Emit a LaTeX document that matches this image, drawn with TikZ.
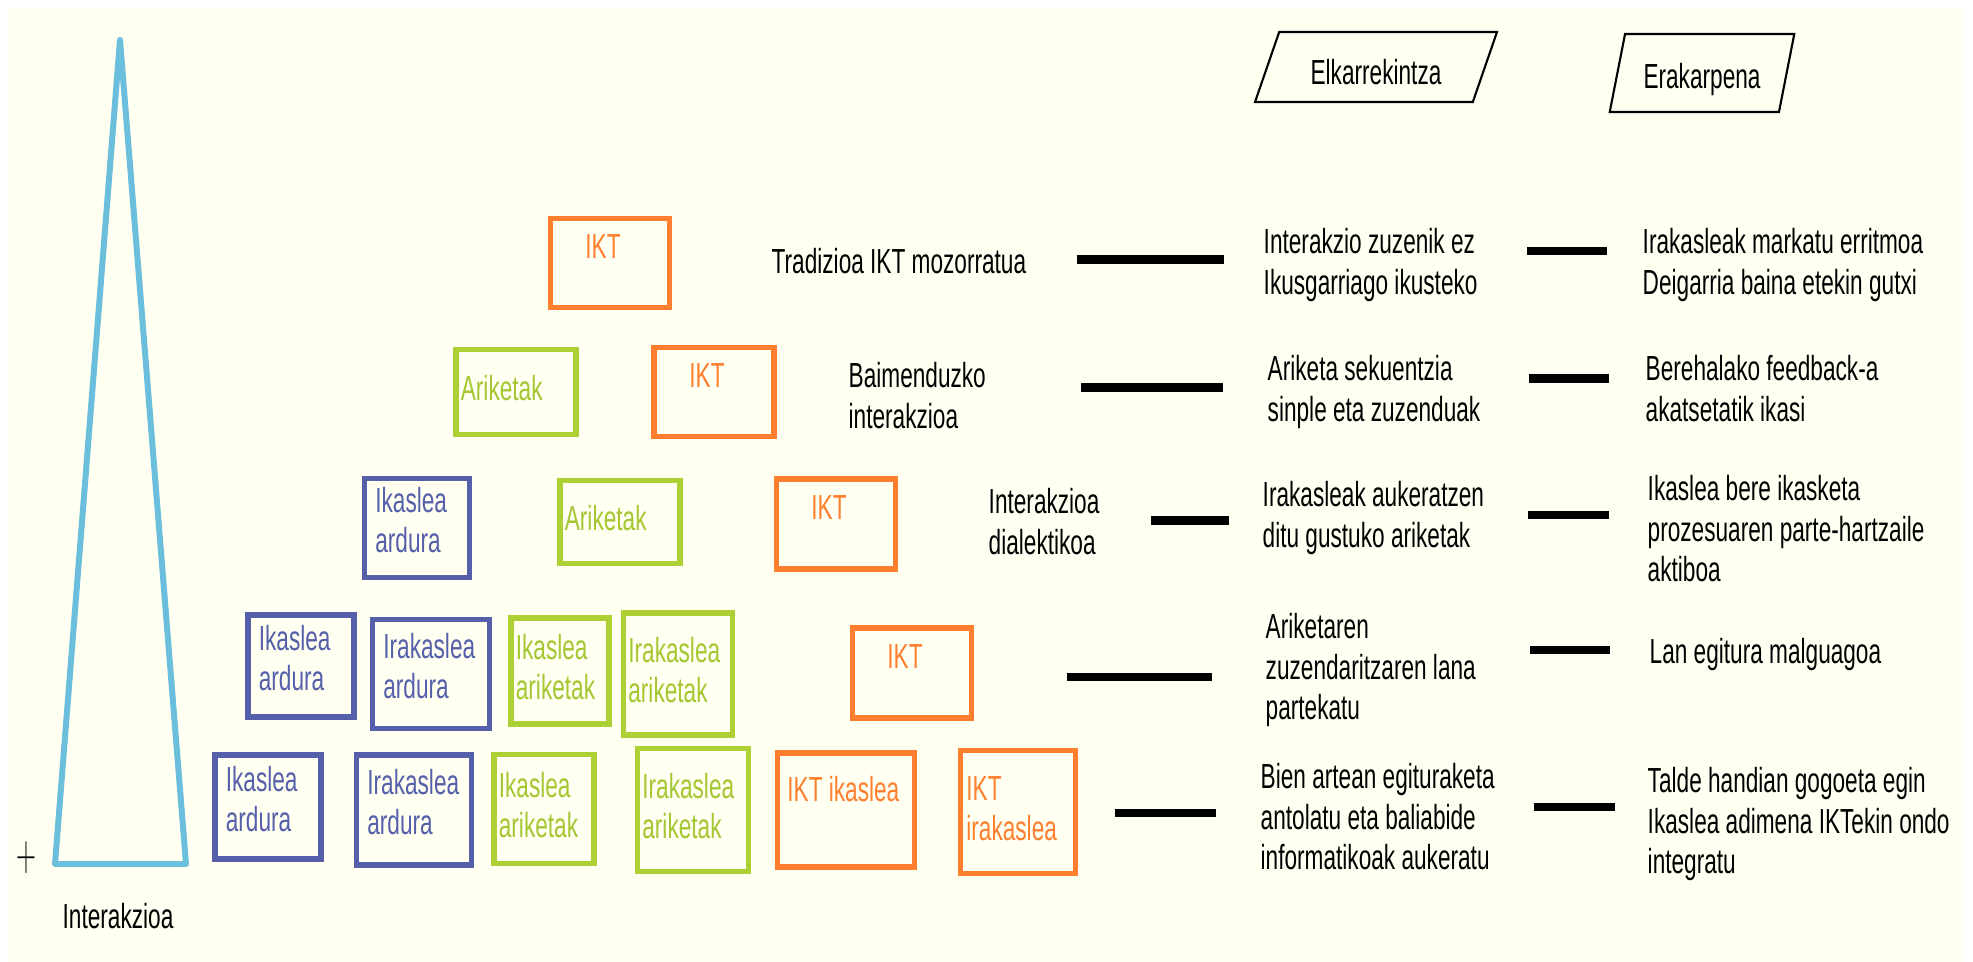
\documentclass[tikz,border=0pt]{standalone}
\usepackage{fontspec}
\setmainfont{Liberation Sans}[FakeStretch=0.65]
\usetikzlibrary{shapes.geometric}

\definecolor{iktorange}{RGB}{255,127,47}
\definecolor{arigreen}{RGB}{173,209,53}
\definecolor{ardurablue}{RGB}{86,96,170}
\definecolor{trisky}{RGB}{107,191,220}
\definecolor{paper}{RGB}{255,255,242}

\tikzset{
  txt/.style={inner sep=0pt, align=left, anchor=north west},
  box/.style={draw, line width=1.6pt, inner sep=0pt},
  ardura/.style={box, draw=ardurablue},
  ariketa/.style={box, draw=arigreen},
  ikt/.style={box, draw=iktorange},
  ardtxt/.style={anchor=west, align=left, inner xsep=.13cm, yshift=.08cm, text=ardurablue},
  aritxt/.style={anchor=west, align=left, inner xsep=.07cm, yshift=.04cm, text=arigreen!95!black},
  ikttxt/.style={anchor=center, xshift=-.07cm, yshift=.16cm, text=iktorange},
  iktleft/.style={anchor=west, align=left, inner xsep=.12cm, text=iktorange},
  header/.style={trapezium, trapezium stretches=true, draw, line width=.6pt, inner sep=0pt},
  bar/.style={line width=2.3pt},
  tri/.style={draw=trisky, line width=1.7pt, line join=round}
}

\begin{document}
\begin{tikzpicture}[x=0.01cm, y=-0.01cm, font=\fontsize{9.9pt}{11.4pt}\selectfont]
  \fill[white] (0,0) rectangle (1973,962);
  \useasboundingbox (0,0) rectangle (1973,962);
  \fill[paper] (7,7) rectangle (1964,962);

  % column headers
  \node[header, trapezium left angle=65, trapezium right angle=115,
        minimum width=2.42cm, minimum height=.70cm, text height=.35cm, text depth=0pt]
        (elk) at (1376,67) {Elkarrekintza\hspace{.38cm}};
  \node[header, trapezium left angle=70, trapezium right angle=110,
        minimum width=1.85cm, minimum height=.78cm, text height=.32cm, text depth=0pt]
        (era) at (1702,73) {Erakarpena\hspace{.08cm}};

  % interaction axis
  \draw[tri] (120,40) -- (186,864) -- (55,864) -- cycle;
  \node (plus) at (26,858) {\scalebox{.38}[.7]{\fontsize{20pt}{20pt}\selectfont$+$}};
  \node[txt] (axis) at (62,903) {Interakzioa};

  % level 1
  \node[ikt, minimum width=1.19cm, minimum height=.89cm, label={[ikttxt]center:IKT}] (k1) at (610,263) {};
  \node[txt] (t1) at (771,248) {Tradizioa IKT mozorratua};

  % level 2
  \node[ariketa, minimum width=1.20cm, minimum height=.85cm, label={[aritxt]west:Ariketak}] (g2) at (516,392) {};
  \node[ikt, minimum width=1.20cm, minimum height=.89cm, label={[ikttxt]center:IKT}] (k2) at (714,392) {};
  \node[txt] (t2) at (848,362) {Baimenduzko\\interakzioa};

  % level 3
  \node[ardura, minimum width=1.05cm, minimum height=.99cm, label={[ardtxt]west:Ikaslea\\ardura}] (a3) at (417,528) {};
  \node[ariketa, minimum width=1.20cm, minimum height=.83cm, label={[aritxt]west:Ariketak}] (g3) at (620,522) {};
  \node[ikt, minimum width=1.19cm, minimum height=.90cm, label={[ikttxt]center:IKT}] (k3) at (836,524) {};
  \node[txt] (t3) at (988,488) {Interakzioa\\dialektikoa};

  % level 4
  \node[ardura, minimum width=1.06cm, minimum height=1.02cm, label={[ardtxt]west:Ikaslea\\ardura}] (a4i) at (301,666) {};
  \node[ardura, minimum width=1.17cm, minimum height=1.09cm, label={[ardtxt]west:Irakaslea\\ardura}] (a4r) at (431,674) {};
  \node[ariketa, minimum width=.98cm, minimum height=1.06cm, label={[aritxt]west:Ikaslea\\ariketak}] (g4i) at (560,671) {};
  \node[ariketa, minimum width=1.09cm, minimum height=1.22cm, label={[aritxt]west:Irakaslea\\ariketak}] (g4r) at (678,674) {};
  \node[ikt, minimum width=1.19cm, minimum height=.90cm, label={[ikttxt]center:IKT}] (k4) at (912,673) {};

  % level 5
  \node[ardura, minimum width=1.06cm, minimum height=1.04cm, label={[ardtxt]west:Ikaslea\\ardura}] (a5i) at (268,807) {};
  \node[ardura, minimum width=1.15cm, minimum height=1.10cm, label={[ardtxt]west:Irakaslea\\ardura}] (a5r) at (414,810) {};
  \node[ariketa, minimum width=1.00cm, minimum height=1.09cm, label={[aritxt]west:Ikaslea\\ariketak}] (g5i) at (544,809) {};
  \node[ariketa, minimum width=1.11cm, minimum height=1.23cm, label={[aritxt]west:Irakaslea\\ariketak}] (g5r) at (693,810) {};
  \node[ikt, minimum width=1.37cm, minimum height=1.14cm, label={[iktleft, yshift=.21cm]west:IKT ikaslea}] (k5i) at (846,810) {};
  \node[ikt, minimum width=1.15cm, minimum height=1.23cm, label={[iktleft, yshift=.03cm, inner xsep=.08cm]west:IKT\\irakaslea}] (k5r) at (1018,812) {};

  % Elkarrekintza column
  \node[txt] (e1) at (1263,228) {Interakzio zuzenik ez\\Ikusgarriago ikusteko};
  \node[txt] (e2) at (1267,355) {Ariketa sekuentzia\\sinple eta zuzenduak};
  \node[txt] (e3) at (1262,481) {Irakasleak aukeratzen\\ditu gustuko ariketak};
  \node[txt] (e4) at (1265,613) {Ariketaren\\zuzendaritzaren lana\\partekatu};
  \node[txt] (e5) at (1260,763) {Bien artean egituraketa\\antolatu eta baliabide\\informatikoak aukeratu};

  % Erakarpena column
  \node[txt] (f1) at (1642,228) {Irakasleak markatu erritmoa\\Deigarria baina etekin gutxi};
  \node[txt] (f2) at (1645,355) {Berehalako feedback-a\\akatsetatik ikasi};
  \node[txt] (f3) at (1647,475) {Ikaslea bere ikasketa\\prozesuaren parte-hartzaile\\aktiboa};
  \node[txt] (f4) at (1649,638) {Lan egitura malguagoa};
  \node[txt] (f5) at (1647,767) {Talde handian gogoeta egin\\Ikaslea adimena IKTekin ondo\\integratu};

  % dashes to the Elkarrekintza column
  \draw[bar] ([shift={(50,-2)}]t1.east) -- ([shift={(-39,-2)}]t1.east -| e1.west);
  \draw[bar] ([shift={(94,-8)}]t2.east) -- ([shift={(-44,-8)}]t2.east -| e2.west);
  \draw[bar] ([shift={(51,-1)}]t3.east) -- ([shift={(-33,-1)}]t3.east -| e3.west);
  \draw[bar] ([shift={(93,4)}]k4.east) -- ([shift={(-53,4)}]k4.east -| e4.west);
  \draw[bar] ([shift={(37,1)}]k5r.east) -- ([shift={(-44,1)}]k5r.east -| e5.west);

  % dashes to the Erakarpena column
  \draw[bar] ([shift={(-115,-14)}]f1.west) -- ([shift={(-35,-14)}]f1.west);
  \draw[bar] ([shift={(-116,-10)}]f2.west) -- ([shift={(-36,-10)}]f2.west);
  \draw[bar] ([shift={(-119,-14)}]f3.west) -- ([shift={(-38,-14)}]f3.west);
  \draw[bar] ([shift={(-119,-5)}]f4.west) -- ([shift={(-39,-5)}]f4.west);
  \draw[bar] ([shift={(-113,-17)}]f5.west) -- ([shift={(-32,-17)}]f5.west);
\end{tikzpicture}
\end{document}
